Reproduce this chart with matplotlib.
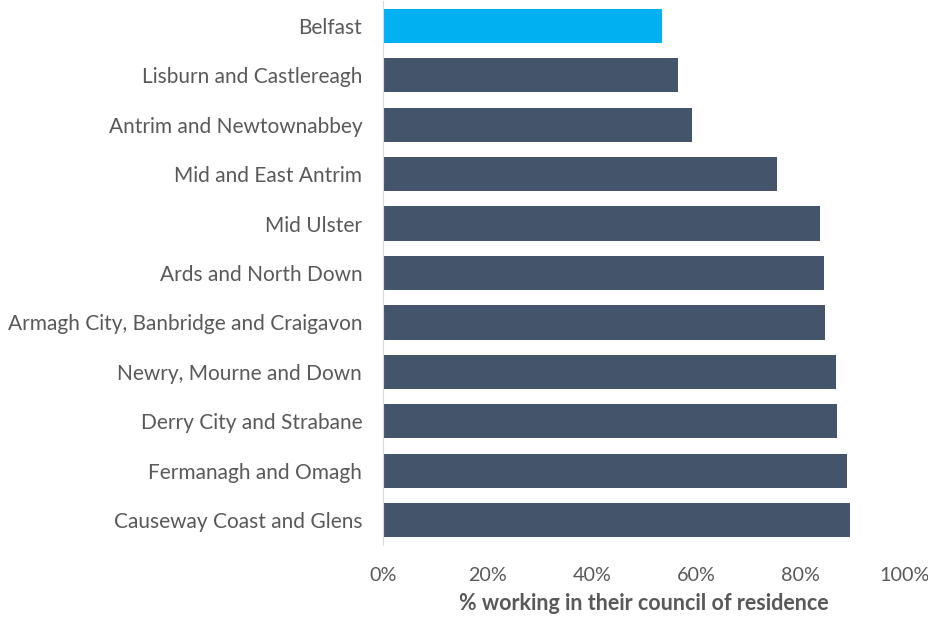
import matplotlib.pyplot as plt
from matplotlib.ticker import PercentFormatter

councils = ['Belfast', 'Lisburn and Castlereagh', 'Antrim and Newtownabbey',
            'Mid and East Antrim', 'Mid Ulster', 'Ards and North Down',
            'Armagh City, Banbridge and Craigavon', 'Newry, Mourne and Down',
            'Derry City and Strabane', 'Fermanagh and Omagh',
            'Causeway Coast and Glens']
pct_working = [53.4, 56.6, 59.2, 75.4, 83.7, 84.5, 84.7, 86.7, 87.0, 88.9, 89.5]

plt.rcParams['font.family'] = ['Lato', 'DejaVu Sans']
grey = '#595959'

fig = plt.figure(figsize=(9.29, 6.18), dpi=100)
ax = fig.add_axes([383/929, 1 - 545/618, 522/929, 544/618])

colors = ['#00b0f0'] + ['#44546a'] * (len(councils) - 1)
ax.barh(range(len(councils)), pct_working, height=0.69, color=colors)

ax.set_ylim(len(councils) - 0.5, -0.5)
ax.set_xlim(0, 100)
ax.set_yticks(range(len(councils)))
ax.set_yticklabels(councils)
ax.set_xticks([0, 20, 40, 60, 80, 100])
ax.xaxis.set_major_formatter(PercentFormatter(decimals=0))
ax.tick_params(length=0, colors=grey)
ax.tick_params(axis='y', pad=15, labelsize=15)
ax.tick_params(axis='x', pad=16, labelsize=14.2)

for s in ['top', 'right', 'bottom']:
    ax.spines[s].set_visible(False)
ax.spines['left'].set_color('#d9d9d9')

ax.set_xlabel('% working in their council of residence', color=grey,
              fontsize=15.5, fontweight='bold', labelpad=6)

fig.savefig('out.png', dpi=100)
